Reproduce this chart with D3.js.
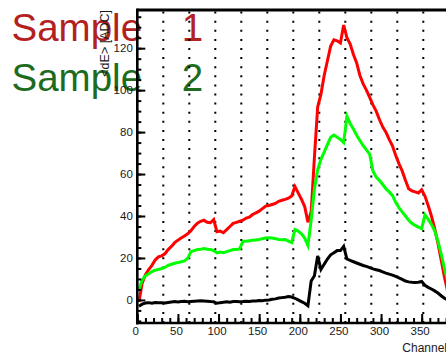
<!DOCTYPE html>
<html>
<head>
<meta charset="utf-8">
<script src="https://cdn.jsdelivr.net/npm/d3@7"></script>
<style>
  html, body { margin: 0; padding: 0; background: #fff; }
  svg { display: block; }
  text { font-family: "Liberation Sans", Arial, Helvetica, sans-serif; }
</style>
</head>
<body>
<svg id="chart" width="446" height="355"></svg>
<script>
// Mean energy deposit per readout channel, averaged in groups of 4 channels
const channels = d3.range(2, 384, 4);

const sample1 = [
  -1, 8, 12, 14.5, 16.5, 19, 20.5, 21, 22, 24, 25.5, 27.3, 28.5, 29.5, 30.5, 31.5,
  33, 35, 36.6, 37.5, 38, 37, 36.8, 38.3, 32.5, 32.8, 32, 33.5, 35, 36.5, 37, 37.5,
  38, 39, 39.5, 40.7, 41.5, 42.3, 43.5, 44.7, 45, 45.5, 46, 47, 47.5, 47.9, 48.5, 49.5,
  54, 51, 48, 44.5, 37, 42, 68, 92, 98, 107, 114, 121, 124, 123.5, 122.5, 131,
  125, 122, 117, 113, 107, 103, 100, 96.5, 93, 90, 86, 82.5, 80, 76.5, 73.5, 69,
  65, 61.5, 57, 53, 52, 51.5, 51, 52.5, 49.5, 45, 40, 34, 27, 19, 11, 4
];

const sample2 = [
  5, 9.5, 11.5, 12.5, 13.5, 14.2, 14.5, 15, 15.5, 16.5, 17, 17.5, 17.8, 18.2, 18.6, 19.8,
  23, 23.5, 24, 24.2, 24.5, 24.2, 24, 23.5, 22.4, 22.8, 22.5, 23, 23.5, 24, 24, 24.3,
  28, 28, 28.2, 28.4, 28.6, 28.8, 29.2, 29.5, 29.6, 29.5, 29.2, 28.8, 28.7, 28.8, 28, 27.3,
  33.5, 32.8, 31.5, 29.5, 26, 38, 53, 62, 67, 70.5, 74, 77.5, 78.6, 77.5, 76.5, 75,
  87.5, 84, 81.5, 78.5, 76, 73.5, 71.5, 69.5, 61.5, 58.5, 57, 55, 53, 51.5, 49.8, 46.5,
  44, 42, 40, 38, 36.5, 35.5, 34.7, 34, 40.5, 38.5, 36, 33, 28, 22, 15, 9
];

const difference = [
  -3, -2, -1.5, -1.3, -1.6, -1.2, -1.4, -1.3, -1.5, -1.2, -1, -0.8, -1, -0.8, -0.6, -0.9,
  -0.7, -0.6, -0.5, -0.4, -0.5, -0.6, -0.8, -0.9, -1.6, -1.3, -1.1, -0.9, -1.1, -0.8, -0.7, -0.9,
  -0.8, -0.6, -0.7, -0.5, -0.5, -0.3, -0.4, -0.1, 0, 0.3, 0.5, 0.9, 1.1, 1.3, 1.6, 1.4,
  0.8, 0, -0.8, -1.6, -2.8, 9, 11.5, 21, 14.5, 17, 19.5, 21.5, 22.5, 23.5, 23.5, 25.5,
  19.5, 18.8, 18.2, 17.6, 17, 16.4, 16, 15.4, 14.8, 14.4, 14, 13.4, 12.8, 12.3, 11.8, 11.2,
  10.5, 9.8, 9, 8.6, 8.4, 8.3, 8.4, 8.8, 7, 6, 5.2, 4.3, 3.3, 2, 0.8, 0
];

const xMajorTicks = [0, 50, 100, 150, 200, 250, 300, 350];
const xMinorTicks = d3.range(0, 384, 10);
const yMajorTicks = [0, 20, 40, 60, 80, 100, 120];
const yMinorTicks = d3.range(-10, 139, 5);
const gridChannels = [32, 64, 96, 128, 160, 192, 224, 256, 288, 320, 352];

const legendLabels = ["Sample 1", "Sample 2"];
const legendColors = ["#b3211f", "#1d6b1d"];

const svg = d3.select("#chart");

const x = d3.scaleLinear().domain([0, 384]).range([137.3, 449.3]);
const y = d3.scaleLinear().domain([-11, 138.2]).range([323, 10]);

// legend labels (drawn first, the frame and axis text sit on top)
svg.append("g")
  .selectAll("text")
  .data(legendLabels)
  .join("text")
  .attr("x", 11.5)
  .attr("y", (d, i) => 40.5 + i * 50)
  .attr("fill", (d, i) => legendColors[i])
  .style("font-size", "38.5px")
  .style("word-spacing", "29px")
  .text(d => d);

const plot = svg.append("g");

// clip to the frame
svg.append("defs").append("clipPath").attr("id", "frameClip")
  .append("rect")
  .attr("x", x(0)).attr("y", y(138.2))
  .attr("width", x(384) - x(0)).attr("height", y(-11) - y(138.2));

// dotted vertical grid every 32 channels
plot.append("g")
  .selectAll("line")
  .data(gridChannels)
  .join("line")
  .attr("x1", d => x(d)).attr("x2", d => x(d))
  .attr("y1", y(-11)).attr("y2", y(138.2))
  .attr("stroke", "#000")
  .attr("stroke-width", 2)
  .attr("stroke-dasharray", "2,7.1");

// series lines
const line = d3.line()
  .x((d, i) => x(channels[i]))
  .y(d => y(d));

const series = [
  { values: sample1, color: "#ff0000" },
  { values: sample2, color: "#00ff00" },
  { values: difference, color: "#000000" }
];

plot.append("g")
  .attr("clip-path", "url(#frameClip)")
  .selectAll("path")
  .data(series)
  .join("path")
  .attr("d", d => line(d.values))
  .attr("fill", "none")
  .attr("stroke", d => d.color)
  .attr("stroke-width", 3)
  .attr("stroke-linejoin", "miter");

// axes: ticks pointing into the frame
const xMinorAxis = d3.axisBottom(x).tickValues(xMinorTicks).tickSize(-5).tickFormat("");
const xMajorAxis = d3.axisBottom(x).tickValues(xMajorTicks).tickSize(-9).tickPadding(4)
  .tickFormat(d3.format("d"));

const gxMinor = svg.append("g").attr("transform", `translate(0,${y(-11)})`).call(xMinorAxis);
const gx = svg.append("g").attr("transform", `translate(0,${y(-11)})`).call(xMajorAxis);

const yMinorAxis = d3.axisLeft(y).tickValues(yMinorTicks).tickSize(-4).tickFormat("");
const yMajorAxis = d3.axisLeft(y).tickValues(yMajorTicks).tickSize(-8).tickPadding(4.5)
  .tickFormat(d3.format("d"));

const gyMinor = svg.append("g").attr("transform", `translate(${x(0)},0)`).call(yMinorAxis);
const gy = svg.append("g").attr("transform", `translate(${x(0)},0)`).call(yMajorAxis);

[gxMinor, gx, gyMinor, gy].forEach(g => {
  g.select(".domain").remove();
  g.selectAll(".tick line").attr("stroke", "#000").attr("stroke-width", 2);
  g.selectAll(".tick text")
    .attr("fill", "#1a1a1a")
    .style("font-size", "11.5px")
    .style("font-family", "'Liberation Sans', Arial, sans-serif");
});
gx.selectAll(".tick text").attr("dx", "-2");

// frame
svg.append("line")
  .attr("x1", x(0)).attr("x2", x(0))
  .attr("y1", y(138.2) - 1.5).attr("y2", y(-11) + 1.5)
  .attr("stroke", "#000").attr("stroke-width", 2.6);
svg.append("line")
  .attr("x1", x(0)).attr("x2", x(384))
  .attr("y1", y(-11)).attr("y2", y(-11))
  .attr("stroke", "#000").attr("stroke-width", 2.6);
svg.append("line")
  .attr("x1", x(0)).attr("x2", x(384))
  .attr("y1", y(138.2)).attr("y2", y(138.2))
  .attr("stroke", "#000").attr("stroke-width", 2.8);

// axis titles
svg.append("text")
  .attr("x", 447)
  .attr("y", 352)
  .attr("text-anchor", "end")
  .attr("fill", "#1a1a1a")
  .style("font-size", "12px")
  .text("Channel");

svg.append("text")
  .attr("transform", `translate(109,${y(138.2)}) rotate(-90)`)
  .attr("text-anchor", "end")
  .attr("fill", "#1a1a1a")
  .style("font-size", "12.5px")
  .text("<dE> [ADC]");
</script>
</body>
</html>
